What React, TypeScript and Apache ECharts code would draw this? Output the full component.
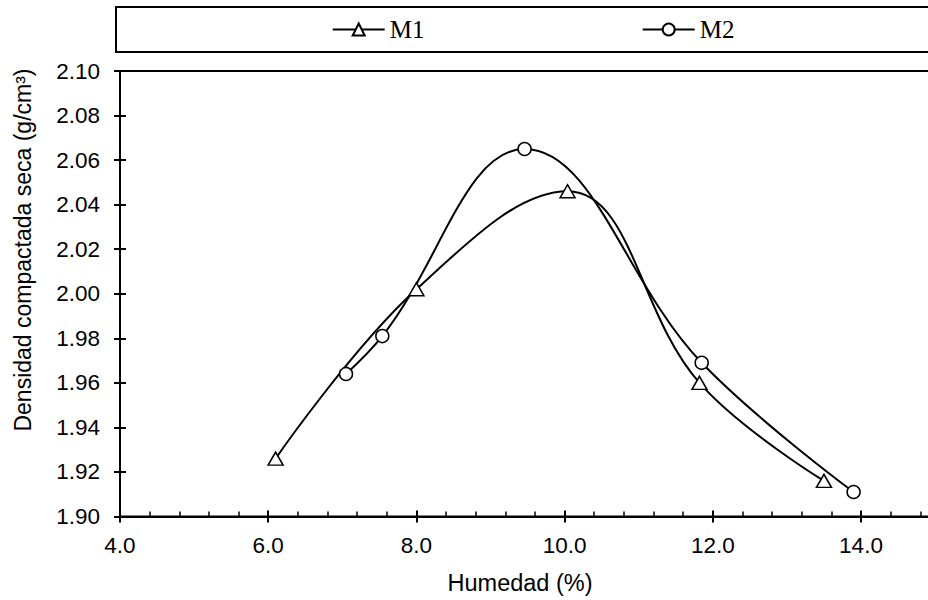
import React, { useEffect, useRef } from 'react';
import * as echarts from 'echarts';

const seriesNames = ['M1', 'M2'];
const m1Humedad = [6.1, 8.0, 10.04, 11.82, 13.5];
const m1Densidad = [1.926, 2.002, 2.046, 1.96, 1.916];
const m2Humedad = [7.05, 7.54, 9.46, 11.85, 13.9];
const m2Densidad = [1.964, 1.981, 2.065, 1.969, 1.911];

const xMin = 4;
const xMax = 16;
const xStep = 2;
const yMin = 1.9;
const yMax = 2.1;
const yStep = 0.02;

const xTitle = 'Humedad (%)';
const yTitle = 'Densidad compactada seca (g/cm³)';

export default function App() {
  const ref = useRef<HTMLDivElement>(null);

  useEffect(() => {
    const chart = echarts.init(ref.current!, null, { renderer: 'svg' });
    const sans = '"Liberation Sans", Arial, sans-serif';
    const serif = '"Liberation Serif", "Times New Roman", serif';
    const black = '#000';

    const xBase = {
      type: 'value',
      position: 'bottom',
      min: xMin,
      max: xMax,
      interval: xStep,
      splitLine: { show: false },
    };
    const yBase = {
      type: 'value',
      position: 'left',
      min: yMin,
      max: yMax,
      interval: yStep,
      splitLine: { show: false },
    };

    const legendCommon = {
      top: 17,
      padding: 0,
      itemWidth: 52,
      itemHeight: 15,
      itemGap: 0,
      textStyle: { fontFamily: serif, fontSize: 25, color: black },
    };

    chart.setOption({
      animation: false,
      backgroundColor: '#fff',
      grid: {
        left: 120,
        top: 71,
        right: 90.8,
        bottom: 83.5,
        show: true,
        borderColor: black,
        borderWidth: 2,
        backgroundColor: 'transparent',
      },
      legend: [
        { ...legendCommon, data: [seriesNames[0]], left: 331.7 },
        { ...legendCommon, data: [seriesNames[1]], left: 641.7 },
      ],
      xAxis: [
        {
          ...xBase,
          axisLine: { show: true, lineStyle: { color: black, width: 2 } },
          axisTick: { show: true, inside: false, length: 6, lineStyle: { color: black, width: 2 } },
          minorTick: { show: false },
          axisLabel: {
            margin: 17,
            color: black,
            fontFamily: sans,
            fontSize: 22.5,
            formatter: (v: number) => (v < 15 ? v.toFixed(1) : ''),
          },
        },
        {
          ...xBase,
          axisLine: { show: false },
          axisTick: { show: true, inside: true, length: 6, lineStyle: { color: black, width: 2 } },
          minorTick: { show: true, splitNumber: 5, length: 5, lineStyle: { color: black, width: 1.5 } },
          axisLabel: { show: false },
        },
      ],
      yAxis: [
        {
          ...yBase,
          axisLine: { show: true, lineStyle: { color: black, width: 2 } },
          axisTick: { show: true, inside: false, length: 6, lineStyle: { color: black, width: 2 } },
          axisLabel: {
            margin: 20,
            color: black,
            fontFamily: sans,
            fontSize: 22.5,
            formatter: (v: number) => v.toFixed(2),
          },
        },
        {
          ...yBase,
          axisLine: { show: false },
          axisTick: { show: true, inside: true, length: 6, lineStyle: { color: black, width: 2 } },
          axisLabel: { show: false },
        },
      ],
      graphic: [
        {
          type: 'rect',
          shape: { x: 116, y: 7, width: 1000, height: 45 },
          style: { fill: 'none', stroke: black, lineWidth: 2 },
        },
        {
          type: 'text',
          x: 520,
          y: 583,
          style: {
            text: xTitle,
            fontFamily: sans,
            fontSize: 23.5,
            fill: black,
            align: 'center',
            verticalAlign: 'middle',
          },
        },
        {
          type: 'text',
          x: 23,
          y: 250,
          rotation: Math.PI / 2,
          style: {
            text: yTitle,
            fontFamily: sans,
            fontSize: 23,
            fill: black,
            align: 'center',
            verticalAlign: 'middle',
          },
        },
      ],
      series: [
        {
          name: seriesNames[0],
          type: 'line',
          xAxisIndex: 0,
          yAxisIndex: 0,
          data: m1Humedad.map((x, i) => [x, m1Densidad[i]]),
          smooth: 0.4,
          symbol: 'triangle',
          symbolSize: [15, 13],
          lineStyle: { color: black, width: 2 },
          itemStyle: { color: '#fff', borderColor: black, borderWidth: 1.5 },
        },
        {
          name: seriesNames[1],
          type: 'line',
          xAxisIndex: 0,
          yAxisIndex: 0,
          data: m2Humedad.map((x, i) => [x, m2Densidad[i]]),
          smooth: 0.4,
          symbol: 'circle',
          symbolSize: 13,
          lineStyle: { color: black, width: 2 },
          itemStyle: { color: '#fff', borderColor: black, borderWidth: 1.5 },
        },
      ],
    });

    return () => chart.dispose();
  }, []);

  return (
    <div
      style={{
        position: 'absolute',
        left: 0,
        top: 0,
        width: 928,
        height: 600,
        overflow: 'hidden',
        background: '#fff',
      }}
    >
      <div ref={ref} style={{ width: 1100, height: 600 }} />
    </div>
  );
}
